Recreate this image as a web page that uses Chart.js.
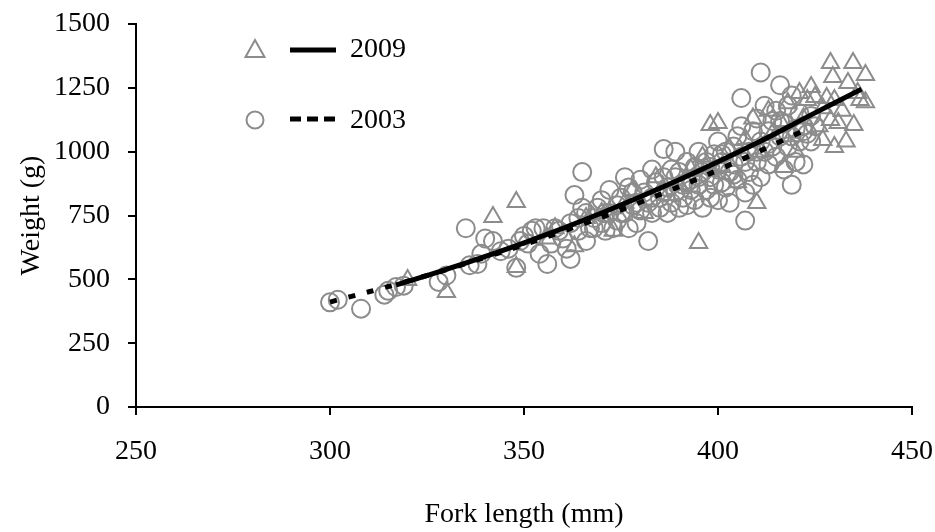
<!DOCTYPE html>
<html>
<head>
<meta charset="utf-8">
<script src="https://cdn.jsdelivr.net/npm/chart.js@4.4.1/dist/chart.umd.min.js"></script>
<style>
  html, body { margin: 0; padding: 0; background: #fff; }
  #wrap { width: 935px; height: 532px; }
</style>
</head>
<body>
<div id="wrap"><canvas id="chart" width="935" height="532"></canvas></div>
<script>
// 2003 sample: fork length (mm) and weight (g)
const len2003 = [300,302,308,314,315,317,319,328,330,335,336,338,339,340,342,344,346,348,349,350,
  351,352,353,354,355,356,357,358,359,360,361,362,362,363,364,365,365,366,366,367,
  368,369,370,370,371,372,372,373,374,374,375,376,376,377,377,378,378,379,380,380,
  381,382,382,383,383,384,385,385,386,386,387,387,388,388,389,389,390,390,391,391,
  392,392,393,393,394,394,395,395,396,396,397,397,398,398,399,399,400,400,400,401,
  401,402,402,403,403,404,404,405,405,406,406,406,407,407,408,408,409,409,410,410,
  411,411,411,412,412,413,413,414,414,415,415,416,416,417,417,418,418,419,419,420,
  420,421,421,422,422,423,424,424,425,
  364,368,371,375,379,383,386,389,392,395,398,401,404,407,410,413,416,419,422];
const wt2003 = [410,420,385,440,455,470,475,490,515,700,555,560,600,660,650,610,620,545,650,670,
  640,690,700,600,700,560,640,700,690,660,620,580,720,830,690,920,780,760,650,700,
  740,780,810,720,690,850,760,700,790,730,820,900,760,860,700,790,840,720,890,770,
  840,650,800,930,760,880,820,780,1010,900,860,760,800,930,1000,840,920,780,870,820,
  960,790,890,850,810,940,1000,870,920,780,850,960,900,820,990,870,1040,930,810,960,
  880,1000,860,920,800,1020,950,890,1060,1210,1100,980,730,840,1000,920,1080,870,1130,960,
  1310,900,1040,1180,1000,1080,950,1120,1020,1160,980,1260,1060,930,1110,1180,1020,1220,870,1090,
  960,1150,1040,950,1100,1070,1040,1140,1100,
  740,700,760,760,800,820,840,900,880,900,940,990,910,960,1000,1030,1120,1060,1080];

// 2009 sample
const len2009 = [320,330,342,348,348,356,358,363,366,370,373,376,378,381,384,387,390,393,395,396,
  398,400,401,403,405,407,409,410,411,413,414,416,417,418,419,420,421,422,423,424,
  425,426,427,427,428,429,429,429.6,430,430,431,432,433.5,434.8,435,436,436.6,438,438,433];
const wt2009 = [497,450,744,803,548,660,700,630,740,760,690,800,850,760,900,830,870,930,642,980,
  1104,1112,940,1010,880,1050,1130,799,1000,1160,1070,1120,940,1190,1060,1000,1230,1130,1202,1253,
  1214,1100,1046,1170,1210,1124,1347,1292,1018,1202,1112,1160,1269,1347,1104,1230,1202,1300,1194,1040];

// fitted length-weight curves
const fitLen2009 = [317,330,350,370,390,410,425,437];
const fitWt2009 = [478,539,643,760,890,1034,1152,1245];
const fitLen2003 = [300,320,340,360,380,400,424];
const fitWt2003 = [411,493,586,688,802,928,1096];

const xTicks = [250,300,350,400,450];
const yTicks = [0,250,500,750,1000,1250,1500];

const pairs = (xs, ys) => xs.map((x, i) => ({x: x, y: ys[i]}));
const FONT = "'Liberation Serif', 'Times New Roman', serif";
const GREY = '#8c8c8c';

// hand-drawn legend in the upper left, like the original figure
const legendPlugin = {
  id: 'fishLegend',
  afterDraw(chart) {
    const ctx = chart.ctx;
    ctx.save();
    ctx.strokeStyle = GREY;
    ctx.lineWidth = 2;
    ctx.beginPath();
    ctx.moveTo(255, 40);
    ctx.lineTo(264.5, 57);
    ctx.lineTo(245.5, 57);
    ctx.closePath();
    ctx.stroke();
    ctx.beginPath();
    ctx.arc(255, 120, 8.5, 0, Math.PI * 2);
    ctx.stroke();
    ctx.strokeStyle = '#000';
    ctx.lineWidth = 5;
    ctx.beginPath();
    ctx.moveTo(290, 50);
    ctx.lineTo(336, 50);
    ctx.stroke();
    ctx.setLineDash([11, 6]);
    ctx.beginPath();
    ctx.moveTo(290, 119);
    ctx.lineTo(338, 119);
    ctx.stroke();
    ctx.setLineDash([]);
    ctx.fillStyle = '#000';
    ctx.font = '28px ' + FONT;
    ctx.textBaseline = 'middle';
    ctx.fillText('2009', 350, 50);
    ctx.fillText('2003', 350, 121);
    ctx.restore();
  }
};

new Chart('chart', {
  type: 'scatter',
  data: {
    datasets: [
      {
        label: '2009 fit',
        type: 'line',
        data: pairs(fitLen2009, fitWt2009),
        borderColor: '#000',
        borderWidth: 5,
        pointRadius: 0,
        tension: 0.4,
        fill: false,
        order: 0
      },
      {
        label: '2003 fit',
        type: 'line',
        data: pairs(fitLen2003, fitWt2003),
        borderColor: '#000',
        borderWidth: 5,
        borderDash: [7, 12],
        pointRadius: 0,
        tension: 0.4,
        fill: false,
        order: 1
      },
      {
        label: '2003',
        data: pairs(len2003, wt2003),
        pointStyle: 'circle',
        pointRadius: 9,
        borderColor: GREY,
        borderWidth: 2,
        backgroundColor: 'rgba(255,255,255,0)',
        order: 3
      },
      {
        label: '2009',
        data: pairs(len2009, wt2009),
        pointStyle: 'triangle',
        pointRadius: 10,
        borderColor: GREY,
        borderWidth: 2,
        backgroundColor: 'rgba(255,255,255,0)',
        order: 2
      }
    ]
  },
  options: {
    responsive: false,
    animation: false,
    layout: { padding: { top: 24, right: 23, left: 0, bottom: 0 } },
    plugins: {
      legend: { display: false },
      tooltip: { enabled: false }
    },
    scales: {
      x: {
        type: 'linear',
        min: 250,
        max: 450,
        afterBuildTicks(scale) { scale.ticks = xTicks.map(v => ({value: v})); },
        afterFit(scale) {
          scale.height = 125;
          scale.paddingLeft = 0;
          scale.paddingRight = 0;
        },
        border: { color: '#000', width: 2 },
        grid: { drawOnChartArea: false, drawTicks: true, tickLength: 8, color: '#000', lineWidth: 2 },
        ticks: { color: '#000', padding: 20, callback: v => String(v), font: { family: FONT, size: 28 } },
        title: {
          display: true,
          text: 'Fork length (mm)',
          color: '#000',
          padding: { top: 0, bottom: 1 },
          font: { family: FONT, size: 28 }
        }
      },
      y: {
        type: 'linear',
        min: 0,
        max: 1500,
        afterBuildTicks(scale) { scale.ticks = yTicks.map(v => ({value: v})); },
        afterFit(scale) {
          scale.width = 136;
          scale.paddingTop = 0;
          scale.paddingBottom = 0;
        },
        border: { color: '#000', width: 2 },
        grid: { drawOnChartArea: false, drawTicks: true, tickLength: 8, color: '#000', lineWidth: 2 },
        ticks: { color: '#000', padding: 18, callback: v => String(v), font: { family: FONT, size: 28 } },
        title: {
          display: true,
          text: 'Weight (g)',
          color: '#000',
          padding: { top: 15, bottom: 0 },
          font: { family: FONT, size: 28 }
        }
      }
    }
  },
  plugins: [legendPlugin]
});
</script>
</body>
</html>
